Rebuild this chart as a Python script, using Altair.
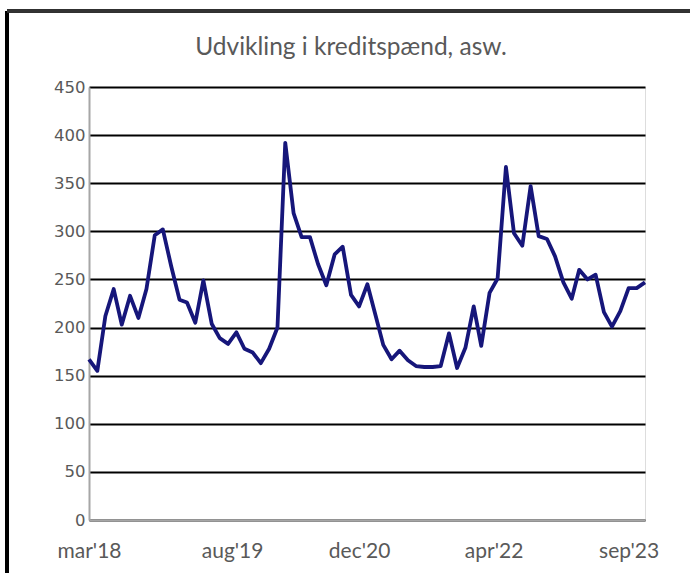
import altair as alt
import pandas as pd

# Monthly credit spread (asw), Mar 2018 - Nov 2023
months = [d.strftime("%Y-%m-%d") for d in pd.date_range("2018-03-01", periods=69, freq="MS")]
spread = [
    167, 155, 212, 240, 203, 233, 210, 240, 296, 302,
    264, 229, 226, 205, 249, 204, 189, 183, 195, 178,
    174, 163, 178, 200, 392, 319, 294, 294, 266, 244,
    276, 284, 234, 222, 245, 212, 182, 167, 176, 166,
    160, 159, 159, 160, 194, 158, 179, 222, 181, 236,
    251, 367, 298, 285, 347, 295, 292, 274, 247, 230,
    260, 250, 255, 216, 201, 217, 241, 241, 247,
]
y_ticks = list(range(0, 451, 50))
x_ticks = [
    alt.DateTime(year=2018, month=3, date=1, utc=True),
    alt.DateTime(year=2019, month=8, date=16, utc=True),
    alt.DateTime(year=2020, month=12, date=1, utc=True),
    alt.DateTime(year=2022, month=4, date=16, utc=True),
    alt.DateTime(year=2023, month=9, date=1, utc=True),
]

df = pd.DataFrame({"month": months, "spread": spread})

Y_FONT = "DejaVu Sans"
X_FONT = "Lato"
TEXT = "#595959"

line = alt.Chart(df).mark_line(color="#16167a", strokeWidth=3.8, strokeJoin="round").encode(
    x=alt.X(
        "month:T",
        scale=alt.Scale(
            type="utc",
            domain=[
                alt.DateTime(year=2018, month=3, date=1, utc=True),
                alt.DateTime(year=2023, month=11, date=1, utc=True),
            ],
            nice=False,
        ),
        axis=alt.Axis(
            title=None,
            values=x_ticks,
            labelExpr="lower(utcFormat(datum.value, \"%b'%y\"))",
            grid=False,
            ticks=False,
            domainColor="#a6a6a6",
            domainWidth=2,
            labelFont=X_FONT,
            labelFontSize=21,
            labelColor=TEXT,
            labelPadding=20,
            labelFlush=False,
            labelOverlap=False,
            labelAlign="center",
        ),
    ),
    y=alt.Y(
        "spread:Q",
        scale=alt.Scale(domain=[0, 450], nice=False),
        axis=alt.Axis(
            title=None,
            values=y_ticks,
            grid=True,
            gridColor="#000000",
            gridWidth=2,
            ticks=False,
            domainColor="#a6a6a6",
            domainWidth=2,
            labelFont=Y_FONT,
            labelFontSize=16.5,
            labelColor=TEXT,
            labelPadding=4,
        ),
    ),
)

# outer frame lines of the figure
frame_v = alt.Chart(df).mark_rule(color="#000000", strokeWidth=2.5, clip=False).encode(
    x=alt.value(-82), y=alt.value(-76), y2=alt.value(520)
)
frame_h = alt.Chart(df).mark_rule(color="#333333", strokeWidth=2.5, clip=False).encode(
    x=alt.value(-82), x2=alt.value(700), y=alt.value(-76)
)

chart = alt.layer(frame_v, frame_h, line).properties(
    width=556,
    height=433,
    title=alt.TitleParams(
        "Udvikling i kreditspænd, asw.",
        font=X_FONT,
        fontSize=24.5,
        fontWeight="normal",
        color=TEXT,
        anchor="middle",
        dx=-16,
        offset=-51,
    ),
    autosize=alt.AutoSizeParams(type="none"),
    padding={"left": 89, "top": 87, "right": 45, "bottom": 53},
).configure_view(
    stroke="#000000", strokeWidth=2
).configure(background="#ffffff")

chart.save("out.html", embed_options={"renderer": "svg", "actions": False})
